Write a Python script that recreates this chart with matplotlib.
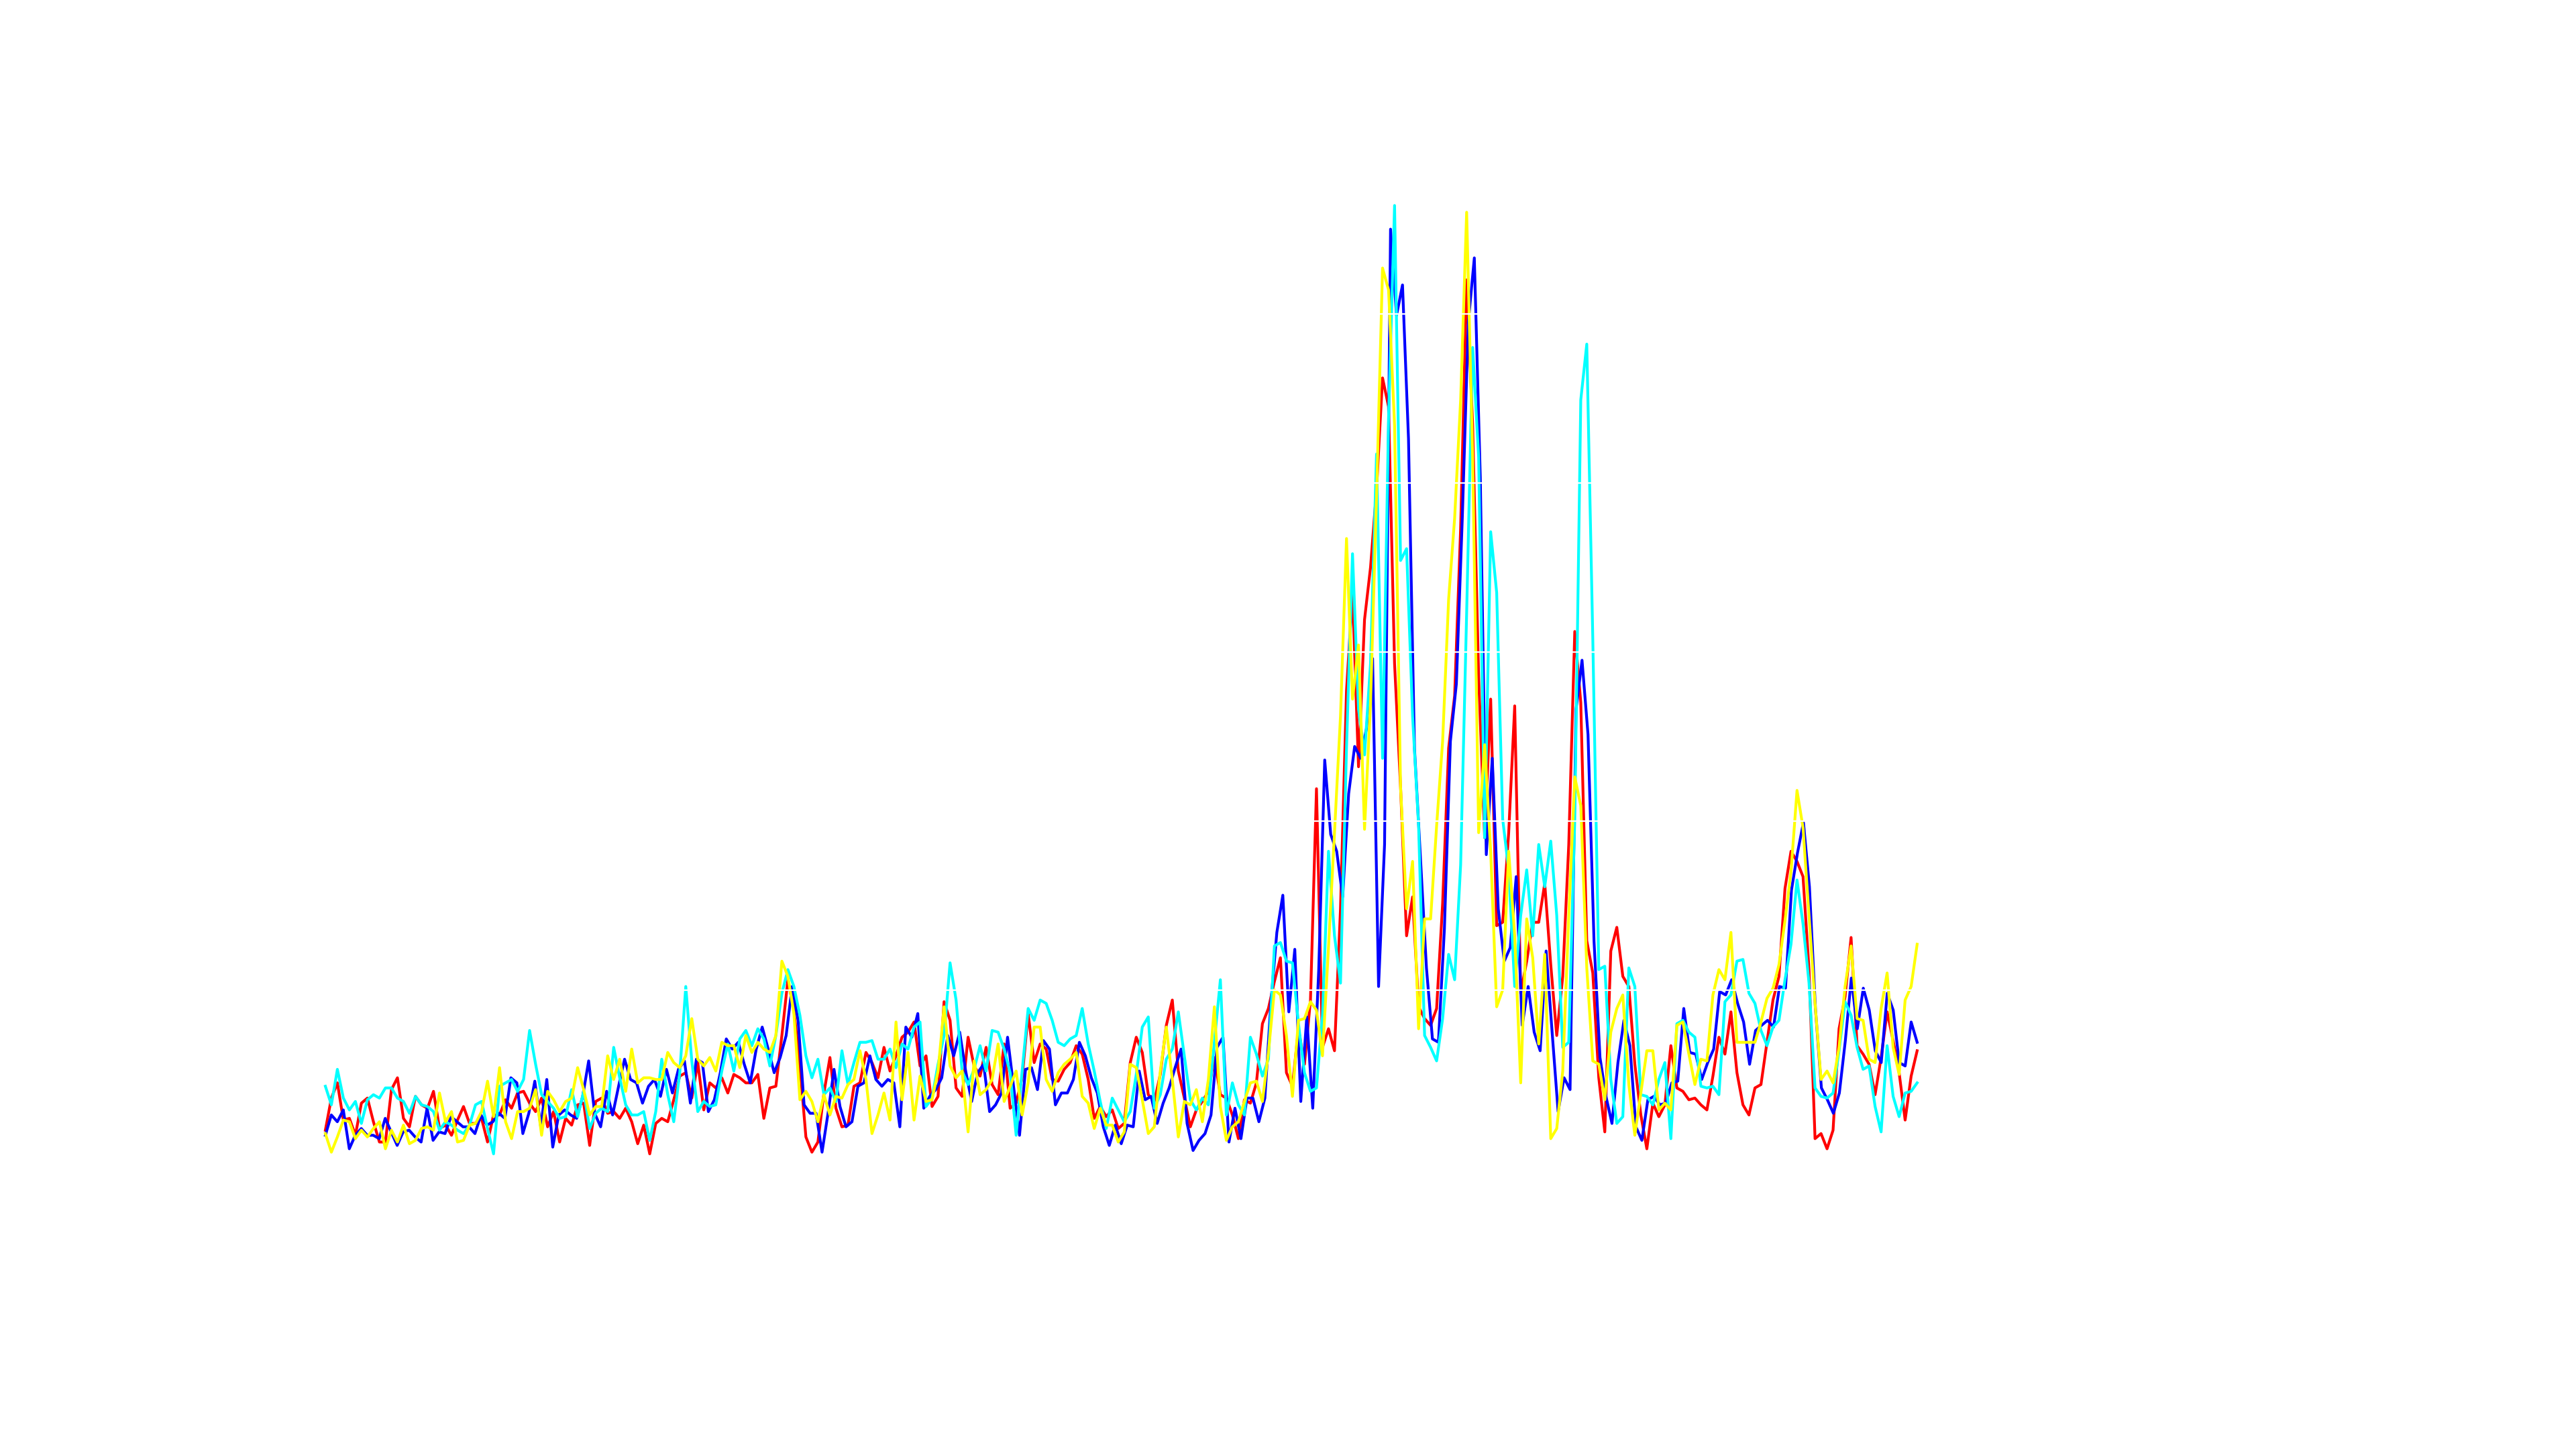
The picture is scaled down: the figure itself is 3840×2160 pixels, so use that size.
import numpy as np
import matplotlib
matplotlib.use("Agg")
import matplotlib.pyplot as plt

# values, 100 units per (white) grid step
red = [17, 36, 45, 23, 24, 14, 33, 36, 22, 10, 10, 41, 48, 24, 19, 37, 32, 30, 40, 18, 20, 14, 23, 31, 21, 21, 24, 10, 26, 26, 35, 30, 39,
       40, 33, 28, 36, 19, 28, 10, 24, 20, 32, 33, 8, 34, 36, 27, 28, 24, 30, 22, 9, 20, 3, 21, 24, 22, 35, 49, 51, 36, 57, 29, 45, 42, 48,
       39, 50, 48, 45, 45, 50, 24, 42, 43, 73, 106, 88, 55, 13, 4, 10, 39, 60, 30, 19, 20, 43, 45, 63, 57, 48, 66, 52, 61, 72, 75, 81, 55, 61,
       31, 37, 93, 82, 42, 37, 72, 55, 49, 66, 44, 38, 68, 30, 33, 48, 86, 57, 68, 65, 47, 46, 53, 57, 67, 62, 47, 24, 31, 25, 29, 18, 21,
       57, 72, 63, 38, 34, 50, 79, 94, 52, 36, 19, 29, 34, 40, 60, 38, 36, 26, 12, 35, 33, 45, 80, 89, 105, 119, 51, 43, 77, 56, 94,
       219, 66, 77, 64, 148, 277, 335, 232, 319, 350, 396, 462, 445, 293, 220, 132, 155, 90, 83, 79, 89, 151, 243, 274, 373, 520, 434, 285,
       190, 272, 138, 140, 193, 268, 98, 117, 140, 140, 163, 115, 73, 108, 186, 312, 270, 129, 110, 48, 16, 123,
       137, 108, 102, 56, 26, 6, 33, 25, 32, 67, 42, 40, 35, 36, 32, 29, 49, 72, 62, 87, 51, 32, 26, 42, 44, 69, 94, 108, 160, 182, 176,
       167, 112, 12, 15, 6, 17, 77, 96, 131, 67, 62, 56, 38, 60, 87, 70, 51, 23, 49, 64]

blue = [14, 26, 22, 29, 6, 14, 18, 14, 14, 12, 24, 16, 8, 16, 17, 13, 10, 30, 11, 16, 15, 25, 22, 19, 19, 15, 26, 20, 22, 27, 24, 48, 45, 15,
        27, 46, 19, 47, 7, 26, 29, 26, 24, 37, 58, 27, 19, 40, 26, 43, 59, 47, 45, 33, 43, 47, 37, 53, 39, 53, 58, 33, 59, 57, 28, 35, 51, 71,
        65, 69, 56, 45, 65, 78, 65, 51, 60, 73, 102, 82, 32, 27, 27, 4, 27, 53, 31, 19, 22, 43, 45, 61, 47, 43, 47, 45, 19, 78, 72, 86, 30,
        37, 41, 48, 73, 61, 75, 52, 34, 51, 56, 28, 32, 39, 72, 43, 14, 53, 54, 41, 70, 65, 32, 39, 39, 47, 69, 61, 48, 39, 19, 8, 20, 9, 20,
        19, 52, 35, 37, 21, 33, 42, 54, 65, 21, 5, 11, 15, 26, 66, 72, 10, 30, 12, 36, 36, 22, 36, 92, 134, 156, 87, 124, 34, 84, 30, 112,
        236, 192, 182, 155, 216, 244, 237, 255, 296, 102, 186, 550, 499, 517, 426, 243, 178, 113, 71, 69, 136, 247, 281, 380, 495, 533,
        403, 180, 237, 148, 117, 125, 167, 79, 102, 75, 64, 123, 75, 28, 48, 41, 266, 295, 251, 129, 60, 37, 21,
        57, 82, 67, 19, 11, 35, 37, 32, 33, 45, 46, 89, 63, 62, 47, 57, 65, 99, 97, 106, 92, 81, 56, 76, 79, 82, 78, 102, 101, 159, 181,
        199, 161, 89, 42, 35, 27, 39, 70, 107, 77, 101, 88, 64, 57, 98, 88, 57, 55, 81, 69]

cyan = [43, 32, 53, 36, 29, 34, 21, 35, 38, 36, 42, 42, 36, 34, 27, 37, 32, 31, 28, 17, 22, 20, 17, 15, 20, 32, 34, 18, 3, 43, 45, 47, 40,
        47, 76, 56, 38, 34, 30, 24, 25, 41, 25, 40, 18, 27, 30, 28, 66, 48, 32, 26, 26, 28, 11, 28, 59, 38, 22, 51, 102, 58, 28, 34, 31, 32,
        52, 68, 52, 71, 76, 67, 77, 71, 55, 73, 98, 112, 102, 85, 61, 48, 59, 38, 42, 34, 64, 44, 57, 69, 69, 70, 59, 59, 65, 54, 68, 65, 78, 81, 31,
        36, 56, 73, 116, 94, 52, 44, 53, 67, 52, 76, 75, 65, 51, 14, 52, 89, 82, 94, 92, 82, 69, 67, 71, 73, 89, 68, 52, 34, 18, 36, 29, 22, 28,
        50, 78, 84, 30, 38, 59, 65, 87, 61, 35, 29, 36, 32, 69, 106, 26, 45, 32, 26, 72, 62, 49, 59, 126, 128, 117, 116, 80, 51, 40, 42, 85, 182,
        132, 104, 243, 358, 266, 239, 293, 417, 237, 438, 564, 354, 361, 262, 197, 73, 66, 58, 83, 121, 106, 174, 323, 480, 415, 190,
        371, 335, 201, 171, 102, 144, 171, 132, 186, 161, 188, 144, 66, 69, 201, 449, 482, 308, 112, 114, 47,
        21, 25, 113, 102, 38, 37, 32, 47, 57, 12, 80, 82, 75, 72, 43, 42, 43, 38, 93, 97, 117, 118, 98, 92, 76, 67, 78, 82, 106, 127, 165,
        139, 104, 42, 37, 36, 39, 64, 93, 85, 66, 53, 55, 31, 16, 67, 37, 25, 39, 40, 45]

yellow = [15, 4, 13, 23, 22, 12, 17, 13, 18, 22, 6, 17, 10, 20, 9, 11, 18, 19, 17, 39, 22, 28, 10, 11, 20, 21, 28, 46, 25, 54, 22, 12, 28,
          28, 30, 41, 14, 40, 35, 28, 34, 36, 54, 41, 26, 31, 31, 61, 47, 59, 40, 65, 45, 48, 48, 47, 47, 63, 57, 54, 61, 83, 59, 55, 60, 52,
          69, 67, 67, 54, 73, 63, 69, 65, 63, 73, 117, 108, 86, 35, 40, 34, 22, 38, 26, 37, 36, 44, 47, 64, 47, 15, 26, 39, 23, 81, 35, 63, 23, 49, 34,
          35, 52, 90, 55, 48, 52, 16, 58, 38, 41, 47, 68, 34, 43, 52, 26, 45, 78, 78, 47, 40, 51, 56, 59, 63, 37, 33, 18, 30, 20, 20, 10, 16,
          56, 54, 35, 15, 19, 52, 78, 47, 13, 34, 32, 41, 22, 47, 90, 31, 11, 19, 22, 34, 45, 46, 34, 63, 100, 97, 73, 37, 82, 83, 93, 88, 61,
          125, 193, 262, 367, 272, 304, 195, 270, 392, 527, 514, 434, 220, 148, 176, 77, 142, 142, 197, 247, 331, 379, 449, 560, 415, 193,
          245, 182, 90, 100, 182, 132, 45, 142, 119, 68, 121, 12, 18, 52, 144, 226, 209, 113, 58, 56, 35, 75,
          89, 97, 44, 14, 39, 64, 64, 29, 33, 29, 79, 81, 62, 44, 59, 58, 97, 112, 106, 134, 69, 69, 69, 69, 81, 95, 101, 115, 141, 170, 218,
          196, 144, 92, 47, 52, 45, 66, 102, 126, 83, 82, 59, 57, 89, 110, 66, 50, 94, 102, 127]

series = [(red, 'red'), (blue, 'blue'), (cyan, 'cyan'), (yellow, 'yellow')]
span = 265

fig, ax = plt.subplots(figsize=(19.2, 10.8), dpi=200)
fig.subplots_adjust(left=0.125, right=0.9, bottom=0.11, top=0.88)

for vals, c in series:
    x = np.linspace(0, span, len(vals))
    ax.plot(x, vals, color=c, linewidth=1.5)

ax.set_xlim(-0.56, 331.8)
ax.set_ylim(-77.3, 582.7)
ax.set_yticks([0, 100, 200, 300, 400, 500])
ax.yaxis.grid(True, color='white', linewidth=0.8)
ax.xaxis.grid(False)
ax.set_axisbelow(False)
ax.tick_params(left=False, bottom=False, labelleft=False, labelbottom=False)
for s in ax.spines.values():
    s.set_visible(False)

fig.savefig('out.png', dpi=200, facecolor='white')
